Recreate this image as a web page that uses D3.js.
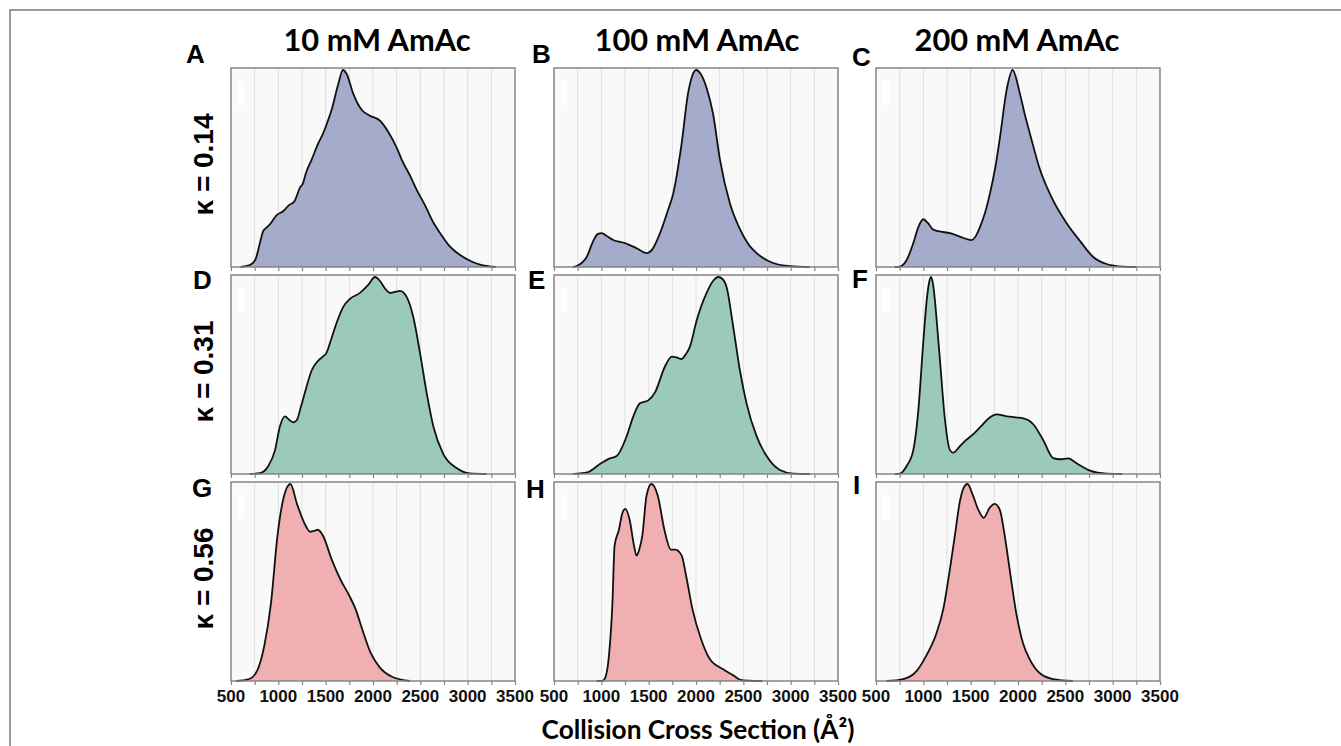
<!DOCTYPE html>
<html><head><meta charset="utf-8">
<script src="https://cdn.jsdelivr.net/npm/d3@7"></script>
<style>body{margin:0;background:#fff;} svg{display:block}</style>
</head><body>
<svg id="chart" width="1341" height="746"></svg>
<script>
// ---------- data ----------
const concentrations = ["10 mM AmAc", "100 mM AmAc", "200 mM AmAc"];
const kappas = ["κ = 0.14", "κ = 0.31", "κ = 0.56"];
const panelLetters = ["A","B","C","D","E","F","G","H","I"];
const tickValues = [500, 1000, 1500, 2000, 2500, 3000, 3500];
const minorTicks = [500,750,1000,1250,1500,1750,2000,2250,2500,2750,3000,3250,3500];
const xTitle = "Collision Cross Section (Å²)";

// Panel A: 10 mM, κ=0.14
const ccsA = [600,700,760,800,840,880,920,980,1050,1110,1170,1230,1260,1290,1352,1420,1472,1520,1563,1633,1683,1722,1792,1880,1968,2074,2160,2250,2303,2390,2470,2550,2630,2710,2800,2920,3030,3130,3300];
const intA = [0,0.01,0.04,0.11,0.18,0.2,0.22,0.26,0.28,0.31,0.33,0.4,0.42,0.47,0.54,0.62,0.67,0.73,0.79,0.92,0.99,0.97,0.87,0.79,0.76,0.735,0.68,0.6,0.54,0.46,0.38,0.31,0.23,0.17,0.11,0.06,0.03,0.012,0];
// Panel B: 100 mM, κ=0.14
const ccsB = [700,740,845,914,960,1004,1060,1126,1250,1373,1479,1540,1620,1700,1760,1848,1915,1960,2000,2050,2112,2180,2253,2358,2464,2560,2640,2815,2992,3200];
const intB = [0,0.005,0.05,0.13,0.165,0.17,0.155,0.136,0.12,0.094,0.07,0.09,0.17,0.28,0.37,0.62,0.87,0.96,0.99,0.97,0.9,0.77,0.54,0.32,0.19,0.11,0.07,0.02,0.004,0];
// Panel C: 200 mM, κ=0.14
const ccsC = [700,753,824,894,947,999,1050,1100,1158,1281,1400,1510,1560,1598,1650,1704,1760,1809,1880,1943,2021,2070,2126,2232,2355,2514,2656,2795,2936,3108,3250];
const intC = [0,0.002,0.035,0.12,0.2,0.24,0.22,0.19,0.18,0.17,0.15,0.135,0.16,0.2,0.27,0.37,0.5,0.65,0.89,0.99,0.87,0.77,0.67,0.49,0.35,0.22,0.13,0.05,0.015,0.002,0];
// Panel D: 10 mM, κ=0.31
const ccsD = [700,806,894,965,1017,1070,1120,1158,1194,1240,1281,1352,1422,1470,1510,1560,1616,1686,1757,1862,1950,2021,2074,2130,2179,2230,2285,2355,2425,2496,2566,2637,2743,2883,3024,3200];
const intD = [0,0.004,0.04,0.12,0.24,0.29,0.27,0.26,0.27,0.34,0.41,0.52,0.57,0.59,0.61,0.68,0.76,0.84,0.88,0.91,0.95,0.99,0.97,0.93,0.91,0.915,0.92,0.89,0.79,0.61,0.41,0.24,0.1,0.03,0.003,0];
// Panel E: 100 mM, κ=0.31
const ccsE = [700,740,862,985,1073,1162,1268,1338,1408,1496,1567,1672,1745,1800,1845,1890,1936,2006,2112,2180,2235,2280,2323,2393,2464,2534,2640,2746,2886,3027,3200];
const intE = [0,0.002,0.01,0.05,0.075,0.09,0.19,0.29,0.355,0.37,0.41,0.54,0.59,0.585,0.578,0.6,0.64,0.77,0.91,0.97,0.99,0.98,0.94,0.74,0.52,0.355,0.19,0.09,0.02,0.002,0];
// Panel F: 200 mM, κ=0.31
const ccsF = [700,753,824,894,947,999,1035,1060,1081,1100,1123,1150,1176,1229,1281,1316,1387,1450,1528,1600,1669,1720,1774,1880,1970,2056,2110,2161,2267,2372,2443,2531,2619,2760,2936,3100];
const intF = [0,0.002,0.04,0.12,0.32,0.66,0.87,0.96,0.99,0.96,0.87,0.72,0.57,0.27,0.12,0.107,0.14,0.17,0.2,0.235,0.27,0.29,0.3,0.29,0.285,0.28,0.27,0.25,0.17,0.08,0.074,0.079,0.054,0.017,0.002,0];
// Panel G: 10 mM, κ=0.56
const ccsG = [555,693,784,853,922,991,1060,1128,1197,1289,1335,1380,1417,1472,1564,1656,1748,1817,1886,1977,2069,2207,2390];
const intG = [0,0.01,0.06,0.18,0.39,0.73,0.93,0.99,0.89,0.78,0.75,0.755,0.76,0.73,0.61,0.51,0.43,0.36,0.26,0.14,0.07,0.02,0];
// Panel H: 100 mM, κ=0.56
const ccsH = [950,1006,1034,1081,1117,1140,1186,1220,1253,1299,1345,1372,1400,1433,1477,1529,1597,1666,1735,1780,1849,1895,1963,2054,2146,2283,2399,2468,2550,2700];
const intH = [0,0,0.01,0.13,0.39,0.68,0.76,0.84,0.865,0.81,0.68,0.63,0.66,0.73,0.93,0.99,0.93,0.76,0.66,0.66,0.63,0.53,0.36,0.21,0.11,0.06,0.027,0.006,0.002,0];
// Panel I: 200 mM, κ=0.56
const ccsI = [612,788,928,1034,1139,1210,1280,1333,1385,1426,1466,1526,1581,1638,1700,1754,1808,1860,1912,1982,2053,2123,2228,2369,2580];
const intI = [0,0.01,0.05,0.13,0.24,0.36,0.56,0.73,0.9,0.97,0.99,0.93,0.86,0.82,0.87,0.89,0.86,0.73,0.56,0.34,0.19,0.11,0.04,0.01,0];

const ccsSeries = [ccsA, ccsB, ccsC, ccsD, ccsE, ccsF, ccsG, ccsH, ccsI];
const intSeries = [intA, intB, intC, intD, intE, intF, intG, intH, intI];

// ---------- layout / style ----------
const rowFills = ["#a4abcb", "#9ccab8", "#f0b0b1"];
const colX = [231, 554, 876];
const rowY = [68, 275, 482];
const panelW = 284, panelH = 199;
const titleFont = "Lato, 'Open Sans', sans-serif";
const arialFont = "'Liberation Sans', Arial, sans-serif";

const svg = d3.select("#chart");
// outer frame
svg.append("rect").attr("x", 10).attr("y", 10).attr("width", 1400).attr("height", 800)
  .attr("fill", "none").attr("stroke", "#7a7a7a").attr("stroke-width", 1.5);

const x = d3.scaleLinear().domain([500, 3500]).range([0, panelW]);
const y = d3.scaleLinear().domain([0, 1]).range([panelH, 0]);

const area = d3.area().x(d => x(d[0])).y0(panelH).y1(d => y(d[1])).curve(d3.curveMonotoneX);
const line = d3.line().x(d => x(d[0])).y(d => y(d[1])).curve(d3.curveMonotoneX);

const letterPos = [[186,63],[532,63],[852,66],[193,289],[528,289],[852,288],[192,497],[526,498],[853,494]];

for (let r = 0; r < 3; r++) {
  for (let c = 0; c < 3; c++) {
    const i = r * 3 + c;
    const g = svg.append("g").attr("transform", `translate(${colX[c]},${rowY[r]})`);
    g.append("rect").attr("width", panelW).attr("height", panelH).attr("fill", "#f9f9f9");
    g.append("rect").attr("x", 7).attr("y", 13).attr("width", 6).attr("height", 24).attr("fill", "#ffffff");
    // grid
    g.selectAll("line.grid").data(minorTicks.slice(1, -1)).join("line")
      .attr("x1", d => x(d)).attr("x2", d => x(d)).attr("y1", 0).attr("y2", panelH)
      .attr("stroke", "#e0e0e0").attr("stroke-width", 1);
    const data = ccsSeries[i].map((v, k) => [v, intSeries[i][k]]);
    g.append("path").datum(data).attr("d", area).attr("fill", rowFills[r]);
    g.append("path").datum(data).attr("d", line).attr("fill", "none")
      .attr("stroke", "#111").attr("stroke-width", 1.8);
    // border
    g.append("rect").attr("width", panelW).attr("height", panelH).attr("fill", "none")
      .attr("stroke", "#858585").attr("stroke-width", 1.5);
    // ticks
    const ax = g.append("g").attr("transform", `translate(0,${panelH})`)
      .call(d3.axisBottom(x).tickValues(minorTicks).tickSize(4).tickFormat(""));
    ax.select(".domain").remove();
    ax.selectAll(".tick line").attr("stroke", "#858585").attr("stroke-width", 1.2);
    if (r === 2) {
      g.selectAll("text.tl").data(tickValues).join("text")
        .attr("x", d => x(d)).attr("y", panelH + 21)
        .attr("text-anchor", "middle").attr("font-family", arialFont)
        .attr("font-weight", "bold").attr("font-size", 17).attr("fill", "#111")
        .text(d => d);
    }
    svg.append("text").attr("x", letterPos[i][0]).attr("y", letterPos[i][1])
      .attr("font-family", arialFont).attr("font-weight", "bold").attr("font-size", 26)
      .attr("fill", "#000").text(panelLetters[i]);
  }
}

// column titles
const titleCx = [377, 697, 1017];
const probe = svg.append("text").attr("font-family", titleFont).attr("font-weight", "bold")
  .attr("font-size", 100).text(concentrations[2]);
const titleSize = 100 * 205 / probe.node().getComputedTextLength();
probe.remove();
concentrations.forEach((t, c) => {
  svg.append("text").attr("x", titleCx[c]).attr("y", 51).attr("text-anchor", "middle")
    .attr("font-family", titleFont).attr("font-weight", "bold").attr("font-size", titleSize)
    .attr("fill", "#000").text(t);
});

// row labels
kappas.forEach((t, r) => {
  const cy = rowY[r] + panelH / 2 - 3;
  svg.append("text").attr("transform", `translate(213,${cy}) rotate(-90)`)
    .attr("text-anchor", "middle").attr("font-family", arialFont).attr("font-weight", "bold")
    .attr("font-size", 28).attr("fill", "#000").text(t);
});

// x-axis title
const xt = svg.append("text").attr("x", 698).attr("y", 739).attr("text-anchor", "middle")
  .attr("font-family", titleFont).attr("font-weight", "bold").attr("font-size", 100)
  .attr("fill", "#000").text(xTitle);
xt.attr("font-size", 100 * 313 / xt.node().getComputedTextLength());
</script>
</body></html>
